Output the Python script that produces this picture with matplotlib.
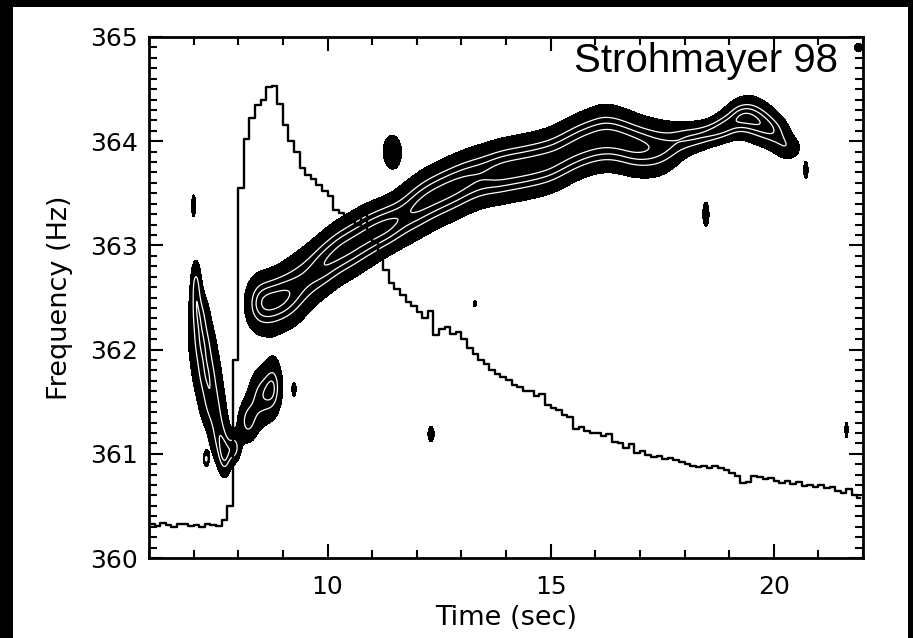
import numpy as np
import matplotlib
matplotlib.use("Agg")
import matplotlib.pyplot as plt
from matplotlib.patches import Rectangle
from matplotlib.ticker import MultipleLocator

# burst light curve, 0.125 s bins (drawn in frequency-axis units)
lc_t = np.arange(6.0625, 22.0, 0.125)
lc_level = [
    360.33, 360.31, 360.34, 360.32, 360.30, 360.33, 360.33, 360.31,
    360.32, 360.30, 360.33, 360.32, 360.31, 360.36, 360.50, 361.90,
    363.55, 364.02, 364.22, 364.35, 364.40, 364.52, 364.53, 364.36,
    364.16, 364.00, 363.90, 363.74, 363.68, 363.64, 363.58, 363.52,
    363.47, 363.34, 363.31, 363.28, 363.22, 363.20, 363.38, 363.12,
    363.04, 362.92, 362.76, 362.64, 362.58, 362.52, 362.46, 362.42,
    362.36, 362.30, 362.37, 362.14, 362.20, 362.22, 362.15, 362.17,
    362.10, 362.02, 361.96, 361.90, 361.86, 361.80, 361.77, 361.74,
    361.71, 361.66, 361.64, 361.60, 361.60, 361.55, 361.57, 361.47,
    361.44, 361.42, 361.37, 361.35, 361.24, 361.26, 361.22, 361.20,
    361.20, 361.17, 361.19, 361.11, 361.10, 361.06, 361.09, 361.01,
    361.03, 360.99, 360.97, 360.98, 360.95, 360.96, 360.94, 360.92,
    360.90, 360.88, 360.87, 360.88, 360.86, 360.88, 360.86, 360.84,
    360.82, 360.79, 360.72, 360.73, 360.79, 360.78, 360.76, 360.77,
    360.74, 360.72, 360.74, 360.71, 360.73, 360.69, 360.70, 360.68,
    360.70, 360.67, 360.68, 360.64, 360.62, 360.66, 360.60, 360.58,
]

# main oscillation track: time, centroid frequency, width, relative power
ridge_t = [8.4, 8.7, 9.0, 9.3, 9.6, 9.9, 10.2, 10.5, 10.8, 11.1, 11.4,
           11.7, 12.0, 12.3, 12.6, 12.9, 13.2, 13.5, 13.8, 14.1, 14.4,
           14.7, 15.0, 15.3, 15.6, 15.9, 16.2, 16.5, 16.8, 17.1, 17.4,
           17.7, 18.0, 18.3, 18.6, 18.9, 19.2, 19.5, 19.8, 20.1, 20.35]
ridge_f = [362.44, 362.45, 362.50, 362.58, 362.70, 362.81, 362.92, 362.99,
           363.07, 363.14, 363.20, 363.28, 363.37, 363.45, 363.51, 363.57,
           363.63, 363.67, 363.70, 363.73, 363.75, 363.78, 363.81, 363.88,
           363.95, 364.00, 364.04, 364.02, 363.97, 363.94, 363.93, 363.95,
           364.02, 364.04, 364.08, 364.14, 364.24, 364.22, 364.16, 364.08,
           363.93]
ridge_w = [0.20, 0.20, 0.21, 0.23, 0.21, 0.20, 0.20, 0.20, 0.20, 0.19, 0.18,
           0.19, 0.20, 0.20, 0.20, 0.20, 0.20, 0.20, 0.20, 0.20, 0.20,
           0.20, 0.20, 0.20, 0.20, 0.20, 0.21, 0.20, 0.20, 0.19, 0.19,
           0.16, 0.12, 0.10, 0.09, 0.10, 0.12, 0.15, 0.14, 0.12, 0.09]
ridge_amp = [1.0, 1.0, 1.0, 0.9, 0.85, 1.0, 1.0, 1.0, 1.0, 1.0, 1.0,
             0.9, 1.0, 1.0, 1.0, 1.0, 0.95, 0.9, 1.0, 1.0, 1.0,
             1.0, 1.0, 1.0, 1.0, 1.0, 1.0, 1.0, 1.0, 0.95, 0.85,
             0.8, 0.8, 0.8, 0.85, 1.0, 1.0, 1.0, 0.95, 0.85, 0.8]

# early rise features and isolated noise peaks: t, f, sigma_t, sigma_f, power
extra_t = [7.05, 7.12, 7.20, 7.30, 7.42, 7.58, 7.70,
           7.92, 8.20, 8.50, 8.80,
           7.00, 11.45, 9.25, 7.28, 12.32, 13.30, 18.48, 21.63, 21.90, 20.72]
extra_f = [362.65, 362.35, 362.05, 361.75, 361.45, 361.15, 360.95,
           361.05, 361.30, 361.55, 361.65,
           363.38, 363.90, 361.62, 360.95, 361.19, 362.44, 363.30, 361.23,
           364.90, 363.72]
extra_st = [0.09, 0.17, 0.22, 0.23, 0.21, 0.16, 0.11,
            0.10, 0.16, 0.20, 0.15,
            0.038, 0.17, 0.038, 0.047, 0.057, 0.03, 0.057, 0.03, 0.076, 0.04]
extra_sf = [0.17, 0.17, 0.17, 0.17, 0.17, 0.17, 0.14,
            0.10, 0.15, 0.20, 0.20,
            0.085, 0.13, 0.053, 0.057, 0.06, 0.025, 0.094, 0.06, 0.033, 0.065]
extra_amp = [0.58, 0.58, 0.58, 0.58, 0.58, 0.58, 0.55,
             0.6, 0.6, 0.65, 0.6,
             0.6, 0.58, 0.6, 0.6, 0.6, 0.6, 0.6, 0.6, 0.6, 0.6]

t_grid = np.linspace(6, 22, 1601)
f_grid = np.linspace(360, 365, 1001)
power = np.zeros((f_grid.size, t_grid.size))


def add_peak(t0, f0, st, sf, amp):
    global power
    gf = np.exp(-0.5 * ((f_grid - f0) / sf) ** 2)
    gt = np.exp(-0.5 * ((t_grid - t0) / st) ** 2)
    power += amp * np.outer(gf, gt)


for t0, f0, w, a in zip(ridge_t, ridge_f, ridge_w, ridge_amp):
    add_peak(t0, f0, 0.22, w, 0.55 * a)
for t0, f0, st, sf, a in zip(extra_t, extra_f, extra_st, extra_sf, extra_amp):
    add_peak(t0, f0, st, sf, a)

fig = plt.figure(figsize=(9.13, 6.38), dpi=100, facecolor="black")
fig.patches.append(Rectangle((13 / 913, 0), 895 / 913, 631 / 638,
                             transform=fig.transFigure, facecolor="white",
                             edgecolor="none", zorder=-10))

ax = fig.add_axes([149 / 913, 80 / 638, 714 / 913, 521 / 638])
ax.set_facecolor("white")

ax.contourf(t_grid, f_grid, power, levels=[0.28, 100], colors="black")
ax.contour(t_grid, f_grid, power, levels=[0.62, 0.78, 0.92],
           colors="white", linewidths=0.9)
ax.plot(lc_t, lc_level, drawstyle="steps-mid", color="black", lw=1.7)

ax.set_xlim(6, 22)
ax.set_ylim(360, 365)
ax.xaxis.set_major_locator(MultipleLocator(5))
ax.xaxis.set_minor_locator(MultipleLocator(1))
ax.yaxis.set_major_locator(MultipleLocator(1))
ax.yaxis.set_minor_locator(MultipleLocator(0.1))
ax.tick_params(which="both", direction="in", top=True, right=True,
               width=1.5, labelsize=18, color="black")
ax.tick_params(which="major", length=10)
ax.tick_params(which="minor", length=5.5)
ax.tick_params(axis="x", pad=12)
ax.tick_params(axis="y", pad=8)
for s in ax.spines.values():
    s.set_linewidth(2)

ax.set_xlabel("Time (sec)", fontsize=19.5, va="center")
ax.xaxis.set_label_coords(0.5, -0.115)
ax.set_ylabel("Frequency (Hz)", fontsize=19.5, va="center")
ax.yaxis.set_label_coords(-0.125, 0.5)

ax.text(0.965, 0.933, "Strohmayer 98", transform=ax.transAxes,
        ha="right", va="baseline", fontsize=29, family="Liberation Sans")

fig.savefig("out.png", dpi=100, facecolor=fig.get_facecolor())
